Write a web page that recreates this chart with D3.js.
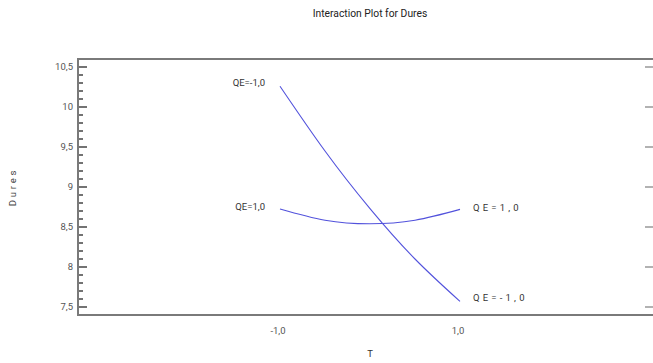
<!DOCTYPE html>
<html>
  <head>
    <script src="https://cdnjs.cloudflare.com/ajax/libs/d3/7.8.5/d3.min.js"></script>
    <style>
      body { margin: 0; background: #fff; }
      text { font-family: Roboto, "Liberation Sans", sans-serif; }
      .frame { stroke: #7a7a7a; stroke-width: 2; fill: none; }
      .tick-l { stroke: #444; stroke-width: 1.5; }
      .tick-r { stroke: #999; stroke-width: 1.5; }
      .curve { fill: none; stroke: #5252dc; stroke-width: 1.1; }
      .lbl { font-size: 9.5px; fill: #333; }
    </style>
  </head>
  <body>
    <svg width="653" height="363"></svg>
    <script>
      // values
      var tLevels = [-1, -0.5, 0, 0.5, 1];
      var durQEm1 = [10.26, 9.45, 8.73, 8.10, 7.57];
      var durQEp1 = [8.725, 8.585, 8.54, 8.585, 8.72];
      var yTicks = [7.5, 8, 8.5, 9, 9.5, 10, 10.5];
      var yTickLabels = ["7,5", "8", "8,5", "9", "9,5", "10", "10,5"];
      var xTicks = [-1, 1];
      var xTickLabels = ["-1,0", "1,0"];

      var svg = d3.select("svg");
      var pLeft = 78, pRight = 656, pTop = 59, pBottom = 315;

      var x = d3.scaleLinear().domain([-1, 1]).range([280, 460]);
      var y = d3.scaleLinear().domain([7.4, 10.6]).range([pBottom, pTop]);

      // title
      svg.append("text").attr("x", 370).attr("y", 17)
        .attr("text-anchor", "middle").style("font-size", "10.3px").style("fill", "#222")
        .text("Interaction Plot for Dures");

      // minor + major ticks on the left
      var minor = d3.range(75, 106).map(d => d / 10);
      svg.selectAll("line.minor").data(minor).enter().append("line")
        .attr("class", "tick-l")
        .attr("x1", pLeft).attr("x2", d => yTicks.indexOf(d) > -1 ? pLeft + 9 : pLeft + 5)
        .attr("y1", d => y(d)).attr("y2", d => y(d));

      svg.selectAll("line.rt").data(yTicks).enter().append("line")
        .attr("class", "tick-r")
        .attr("x1", 645).attr("x2", 656)
        .attr("y1", d => y(d)).attr("y2", d => y(d));

      svg.selectAll("text.yl").data(yTicks).enter().append("text")
        .attr("class", "lbl")
        .attr("x", 73).attr("y", d => y(d) + 3)
        .attr("text-anchor", "end").style("fill", "#555")
        .text((d, i) => yTickLabels[i]);

      svg.selectAll("text.xl").data(xTicks).enter().append("text")
        .attr("class", "lbl")
        .attr("x", d => x(d) - 2).attr("y", 334)
        .attr("text-anchor", "middle").style("fill", "#555")
        .text((d, i) => xTickLabels[i]);

      // frame
      svg.append("path").attr("class", "frame")
        .attr("d", "M" + pRight + "," + pTop + "H" + pLeft + "V" + pBottom + "H" + pRight);

      // axis titles
      svg.append("text").attr("x", 370).attr("y", 357)
        .attr("text-anchor", "middle").style("font-size", "9.5px").style("fill", "#333")
        .text("T");
      svg.append("text")
        .attr("transform", "translate(16,187) rotate(-90)")
        .attr("text-anchor", "middle").style("font-size", "9.5px").style("fill", "#444")
        .style("letter-spacing", "2.8px")
        .text("Dures");

      var line = d3.line().x(d => x(d[0])).y(d => y(d[1])).curve(d3.curveNatural);
      [durQEm1, durQEp1].forEach(vals => {
        svg.append("path").attr("class", "curve")
          .attr("d", line(tLevels.map((t, i) => [t, vals[i]])));
      });

      // series labels
      svg.append("text").attr("class", "lbl").attr("x", 265).attr("y", y(durQEm1[0]) - 0)
        .attr("text-anchor", "end").text("QE=-1,0");
      svg.append("text").attr("class", "lbl").attr("x", 265).attr("y", y(durQEp1[0]) + 0.5)
        .attr("text-anchor", "end").text("QE=1,0");
      svg.append("text").attr("class", "lbl").attr("x", 473).attr("y", y(durQEp1[4]) + 1.5)
        .style("letter-spacing", "3.2px").text("QE=1,0");
      svg.append("text").attr("class", "lbl").attr("x", 473).attr("y", y(durQEm1[4]) - 0.5)
        .style("letter-spacing", "3.2px").text("QE=-1,0");
    </script>
  </body>
</html>
